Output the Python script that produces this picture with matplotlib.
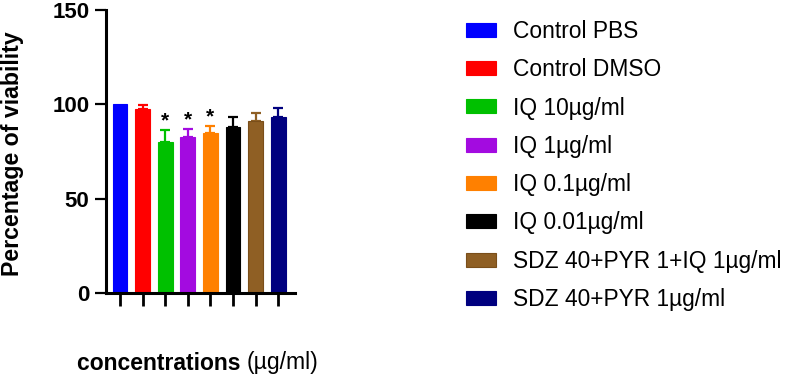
import matplotlib
matplotlib.use("Agg")
import matplotlib.pyplot as plt
import numpy as np

plt.rcParams['font.family'] = ['Liberation Sans', 'DejaVu Sans']

groups = ["Control PBS", "Control DMSO", "IQ 10µg/ml", "IQ 1µg/ml", "IQ 0.1µg/ml",
          "IQ 0.01µg/ml", "SDZ 40+PYR 1+IQ 1µg/ml", "SDZ 40+PYR 1µg/ml"]
viability = [100.0, 97.5, 80.2, 82.6, 84.9, 87.9, 91.1, 93.4]
errors = [0.0, 2.1, 6.0, 4.1, 3.6, 5.3, 4.1, 4.5]
significant = [False, False, True, True, True, False, False, False]
colors = ["#0000FF", "#FF0000", "#00C000", "#A30BE0", "#FF8000", "#000000", "#8F5F24", "#00007F"]
edgecolors = ["#0000FF", "#FF0000", "#00C000", "#A30BE0", "#FF8000", "#000000", "#7A4E1A", "#00007F"]
yticks = [0, 50, 100, 150]

fig = plt.figure(figsize=(7.86, 3.78), dpi=100)
ax = fig.add_axes([106/786, 1 - 293/378, (295 - 106)/786, (293 - 10)/378])

x = np.arange(len(groups))
handles = []
for i in range(len(groups)):
    b = ax.bar(x[i], viability[i], width=0.65, color=colors[i], edgecolor=edgecolors[i],
               linewidth=0.8, label=groups[i], zorder=2)
    handles.append(b)
    if errors[i] > 0:
        ax.errorbar(x[i], viability[i], yerr=[[0], [errors[i]]], fmt='none',
                    ecolor=colors[i], elinewidth=1.6, capsize=3.4, capthick=1.6, zorder=1)
    if significant[i]:
        ax.annotate("*", (x[i], viability[i] + errors[i]), xytext=(0, 0),
                    textcoords='offset points', ha='center', va='bottom',
                    fontsize=15, fontweight='bold', color='black')

ax.set_xlim(-0.62, 7.74)
ax.set_ylim(0, 150)
ax.set_yticks(yticks)
ax.set_yticklabels([str(t) for t in yticks], fontsize=16, fontweight='bold')
ax.set_xticks(x)
ax.set_xticklabels([""] * len(groups))
ax.tick_params(axis='y', length=8, width=1.6, pad=4)
ax.tick_params(axis='x', length=9, width=2.0, direction='out')
for s in ['top', 'right']:
    ax.spines[s].set_visible(False)
for s in ['left', 'bottom']:
    ax.spines[s].set_linewidth(2.2)

fig.text(13/786, 1 - 153.5/378, "Percentage of viability", rotation=90, ha='center', va='center',
         fontsize=16.7, fontweight='bold')
xl = fig.text(77/786, 1 - 363/378, "concentrations ", ha='left', va='center',
              fontsize=16.5, fontweight='bold')
fig.canvas.draw()
bb = xl.get_window_extent()
fig.text(bb.x1 / 786, 1 - 363/378, "(µg/ml)", ha='left', va='center', fontsize=16.6)

fig.legend(handles=handles, labels=groups, loc='upper left',
           bbox_to_anchor=(466/786, 1 - 20/378), frameon=False, fontsize=16.4,
           borderpad=0, borderaxespad=0, handlelength=1.3, handleheight=0.57,
           handletextpad=0.75, labelspacing=0.67)

fig.savefig("out.png", dpi=100)
